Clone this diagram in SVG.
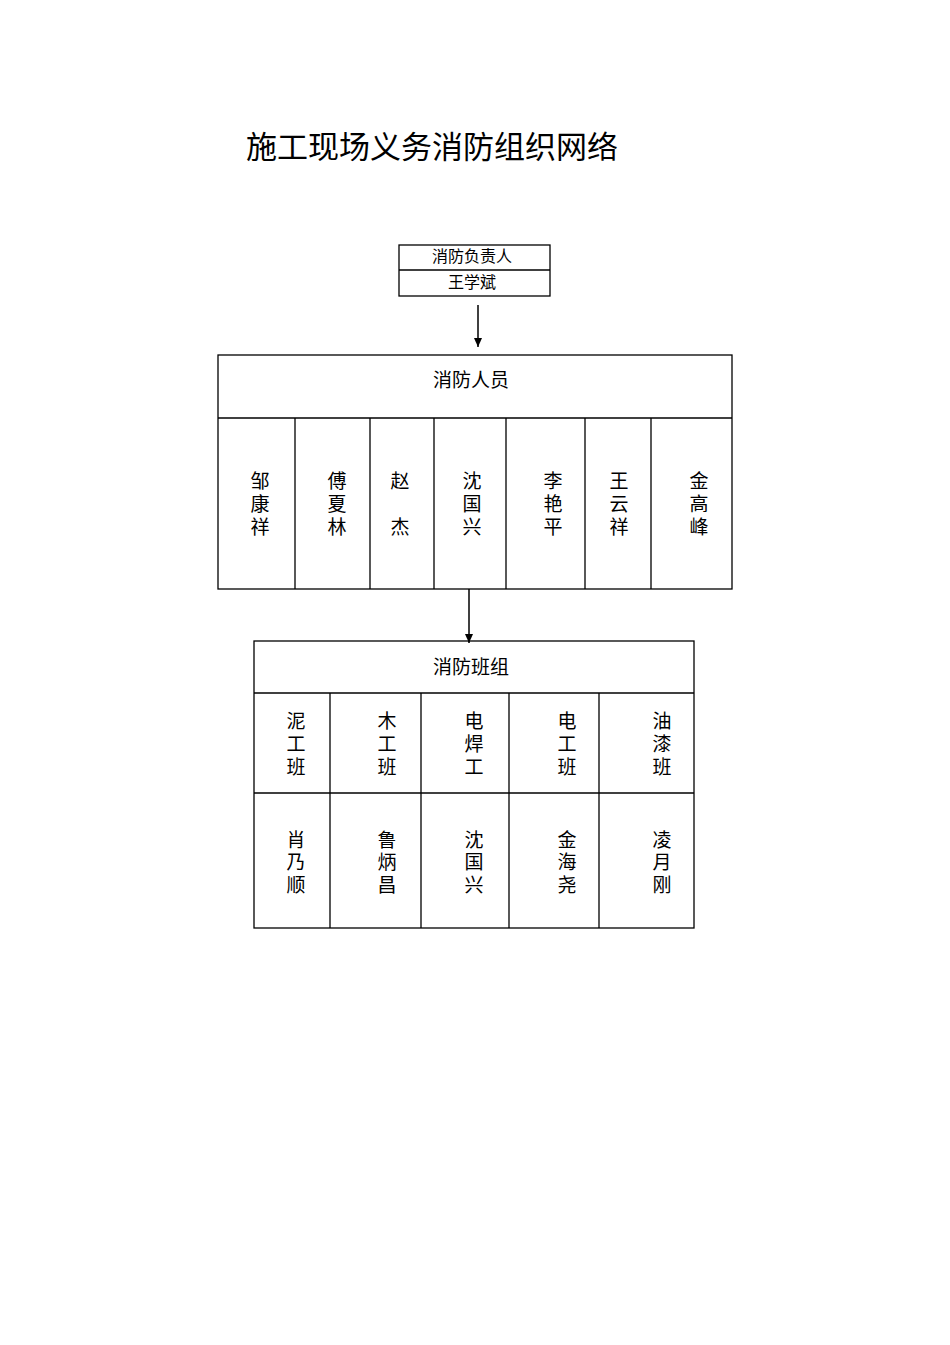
<svg xmlns="http://www.w3.org/2000/svg" width="950" height="1345" viewBox="0 0 950 1345">
<style>
text{font-family:"Liberation Serif","Noto Sans CJK SC",serif;fill:#000;text-anchor:middle}
.b{fill:none;stroke:#000;stroke-width:1.3}
.n{font-size:19px}
.s{font-size:16px}
</style>
<defs><marker id="a" markerWidth="10" markerHeight="10" refX="9" refY="5" orient="auto" markerUnits="userSpaceOnUse"><path d="M0,1L9,5L0,9z" fill="#000"/></marker></defs>
<rect width="950" height="1345" fill="#fff"/>
<text x="432" y="158" style="font-size:31px">施工现场义务消防组织网络</text>
<g id="leader">
<rect class="b" x="399" y="245" width="151" height="51"/>
<line class="b" x1="399" y1="270" x2="550" y2="270"/>
<text class="s" x="472" y="262">消防负责人</text>
<text class="s" x="472" y="288">王学斌</text>
</g>
<g id="staff">
<rect class="b" x="218" y="355" width="514" height="234"/>
<line class="b" x1="218" y1="418" x2="732" y2="418"/>
<path class="b" d="M295,418V589M370,418V589M434,418V589M506,418V589M585,418V589M651,418V589"/>
<text class="n" x="471" y="387">消防人员</text>
<g class="n">
<text x="260" y="488">邹</text><text x="260" y="511">康</text><text x="260" y="534">祥</text>
<text x="337" y="488">傅</text><text x="337" y="511">夏</text><text x="337" y="534">林</text>
<text x="400" y="488">赵</text><text x="400" y="534">杰</text>
<text x="472" y="488">沈</text><text x="472" y="511">国</text><text x="472" y="534">兴</text>
<text x="553" y="488">李</text><text x="553" y="511">艳</text><text x="553" y="534">平</text>
<text x="619" y="488">王</text><text x="619" y="511">云</text><text x="619" y="534">祥</text>
<text x="699" y="488">金</text><text x="699" y="511">高</text><text x="699" y="534">峰</text>
</g>
</g>
<g id="teams">
<rect class="b" x="254" y="641" width="440" height="287"/>
<line class="b" x1="254" y1="693" x2="694" y2="693"/>
<line class="b" x1="254" y1="793" x2="694" y2="793"/>
<path class="b" d="M330,693V928M421,693V928M509,693V928M599,693V928"/>
<text class="n" x="471" y="674">消防班组</text>
<g class="n">
<text x="296" y="728">泥</text><text x="296" y="751">工</text><text x="296" y="774">班</text>
<text x="387" y="728">木</text><text x="387" y="751">工</text><text x="387" y="774">班</text>
<text x="474" y="728">电</text><text x="474" y="751">焊</text><text x="474" y="774">工</text>
<text x="567" y="728">电</text><text x="567" y="751">工</text><text x="567" y="774">班</text>
<text x="662" y="728">油</text><text x="662" y="751">漆</text><text x="662" y="774">班</text>
<text x="296" y="847">肖</text><text x="296" y="869">乃</text><text x="296" y="892">顺</text>
<text x="387" y="847">鲁</text><text x="387" y="869">炳</text><text x="387" y="892">昌</text>
<text x="474" y="847">沈</text><text x="474" y="869">国</text><text x="474" y="892">兴</text>
<text x="567" y="847">金</text><text x="567" y="869">海</text><text x="567" y="892">尧</text>
<text x="662" y="847">凌</text><text x="662" y="869">月</text><text x="662" y="892">刚</text>
</g>
</g>
<g id="connectors" stroke="#000" stroke-width="1.5">
<line x1="478" y1="305" x2="478" y2="347" marker-end="url(#a)"/>
<line x1="469" y1="589" x2="469" y2="643" marker-end="url(#a)"/>
</g>
</svg>
